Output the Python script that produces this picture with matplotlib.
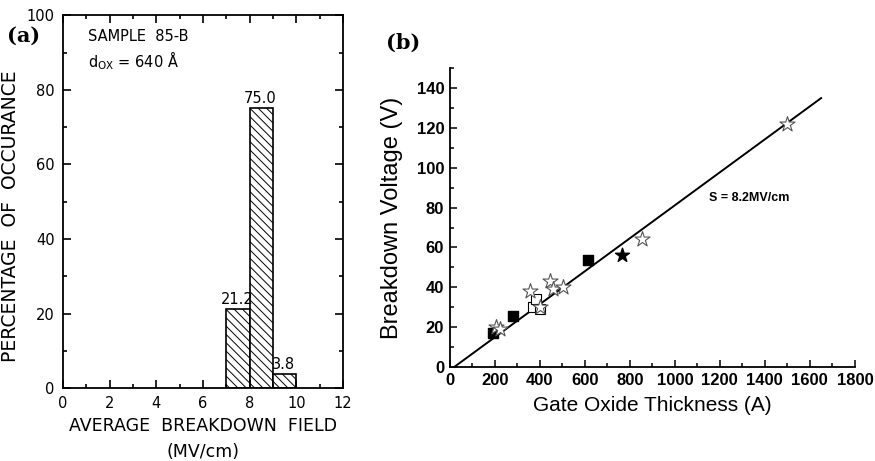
import numpy as np
import matplotlib
matplotlib.use('Agg')
import matplotlib.pyplot as plt
from matplotlib.ticker import MultipleLocator

# panel (a) histogram
bin_left = [7, 8, 9]
bin_pct = [21.2, 75.0, 3.8]
bin_labels = ['21.2', '75.0', '3.8']

# panel (b) scatter
filled_sq_x = [190, 280, 615]
filled_sq_y = [17, 25.5, 53.5]
open_sq_x = [370, 385, 400]
open_sq_y = [30, 34, 29]
open_star_x = [205, 222, 355, 400, 445, 458, 505, 855, 1500]
open_star_y = [20, 19, 38, 30, 43, 39, 40, 64, 122]
filled_star_x = [765]
filled_star_y = [56]
fit_x = [20, 1650]
fit_y = [0, 135]

plt.rcParams['hatch.linewidth'] = 0.7

fig = plt.figure(figsize=(8.75, 4.61), dpi=100)

# ---- (a)
ax1 = fig.add_axes([0.072, 0.158, 0.32, 0.809])
ax1.bar(bin_left, bin_pct, width=1.0, align='edge', facecolor='white',
        edgecolor='black', hatch='\\\\\\\\', linewidth=1.2)
for x, h, s in zip(bin_left, bin_pct, bin_labels):
    ax1.text(x + 0.45, h + 0.6, s, ha='center', va='bottom', fontsize=10.5)
ax1.set_xlim(0, 12)
ax1.set_ylim(0, 100)
ax1.xaxis.set_major_locator(MultipleLocator(2))
ax1.xaxis.set_minor_locator(MultipleLocator(1))
ax1.yaxis.set_major_locator(MultipleLocator(20))
ax1.yaxis.set_minor_locator(MultipleLocator(10))
ax1.tick_params(which='both', direction='in', top=True, right=True, width=1.2)
ax1.tick_params(which='major', length=6, labelsize=10.5, pad=6)
ax1.tick_params(which='minor', length=3)
for sp in ax1.spines.values():
    sp.set_linewidth(1.3)
ax1.set_xlabel('AVERAGE  BREAKDOWN  FIELD\n(MV/cm)', fontsize=12.5,
               linespacing=1.6, labelpad=4)
ax1.set_ylabel('PERCENTAGE  OF  OCCURANCE', fontsize=13.5)
ax1.yaxis.set_label_coords(-0.155, 0.46)
ax1.text(0.09, 0.93, 'SAMPLE  85-B', transform=ax1.transAxes, fontsize=10.5)
ax1.text(0.09, 0.86, r'd$_{\mathregular{OX}}$ = 640 $\mathregular{\AA}$',
         transform=ax1.transAxes, fontsize=10.5)
fig.text(0.008, 0.91, '(a)', fontsize=15, fontweight='bold', family='DejaVu Serif')

# ---- (b)
ax2 = fig.add_axes([0.514, 0.204, 0.463, 0.648])
ax2.plot(fit_x, fit_y, color='black', linewidth=1.4)
ax2.scatter(filled_sq_x, filled_sq_y, marker='s', s=55, color='black', zorder=3)
ax2.scatter(open_sq_x, open_sq_y, marker='s', s=60, facecolor='white',
            edgecolor='black', linewidth=0.8, zorder=3)
ax2.scatter(open_star_x, open_star_y, marker='*', s=130, facecolor='white',
            edgecolor='#555555', linewidth=0.8, zorder=4)
ax2.scatter(filled_star_x, filled_star_y, marker='*', s=110, color='black', zorder=4)
ax2.text(1150, 85, 'S = 8.2MV/cm', fontsize=9, fontweight='bold',
         family='Liberation Sans', va='center')
ax2.set_xlim(0, 1800)
ax2.set_ylim(0, 150)
ax2.xaxis.set_major_locator(MultipleLocator(200))
ax2.xaxis.set_minor_locator(MultipleLocator(100))
ax2.yaxis.set_major_locator(MultipleLocator(20))
ax2.yaxis.set_minor_locator(MultipleLocator(10))
ax2.spines['top'].set_visible(False)
ax2.spines['right'].set_visible(False)
for sp in ('left', 'bottom'):
    ax2.spines[sp].set_linewidth(1.3)
ax2.tick_params(which='both', direction='in', width=1.1)
ax2.tick_params(which='major', length=5, labelsize=12, pad=4)
ax2.tick_params(which='minor', length=3)
for lab in ax2.get_xticklabels() + ax2.get_yticklabels():
    lab.set_fontweight('bold')
    lab.set_family('Liberation Sans')
ax2.set_xlabel('Gate Oxide Thickness (A)', fontsize=15, family='Liberation Sans',
               labelpad=6)
ax2.set_ylabel('Breakdown Voltage (V)', fontsize=17, family='Liberation Sans',
               labelpad=10)
fig.text(0.441, 0.895, '(b)', fontsize=15, fontweight='bold', family='DejaVu Serif')

fig.savefig('out.png', dpi=100)
